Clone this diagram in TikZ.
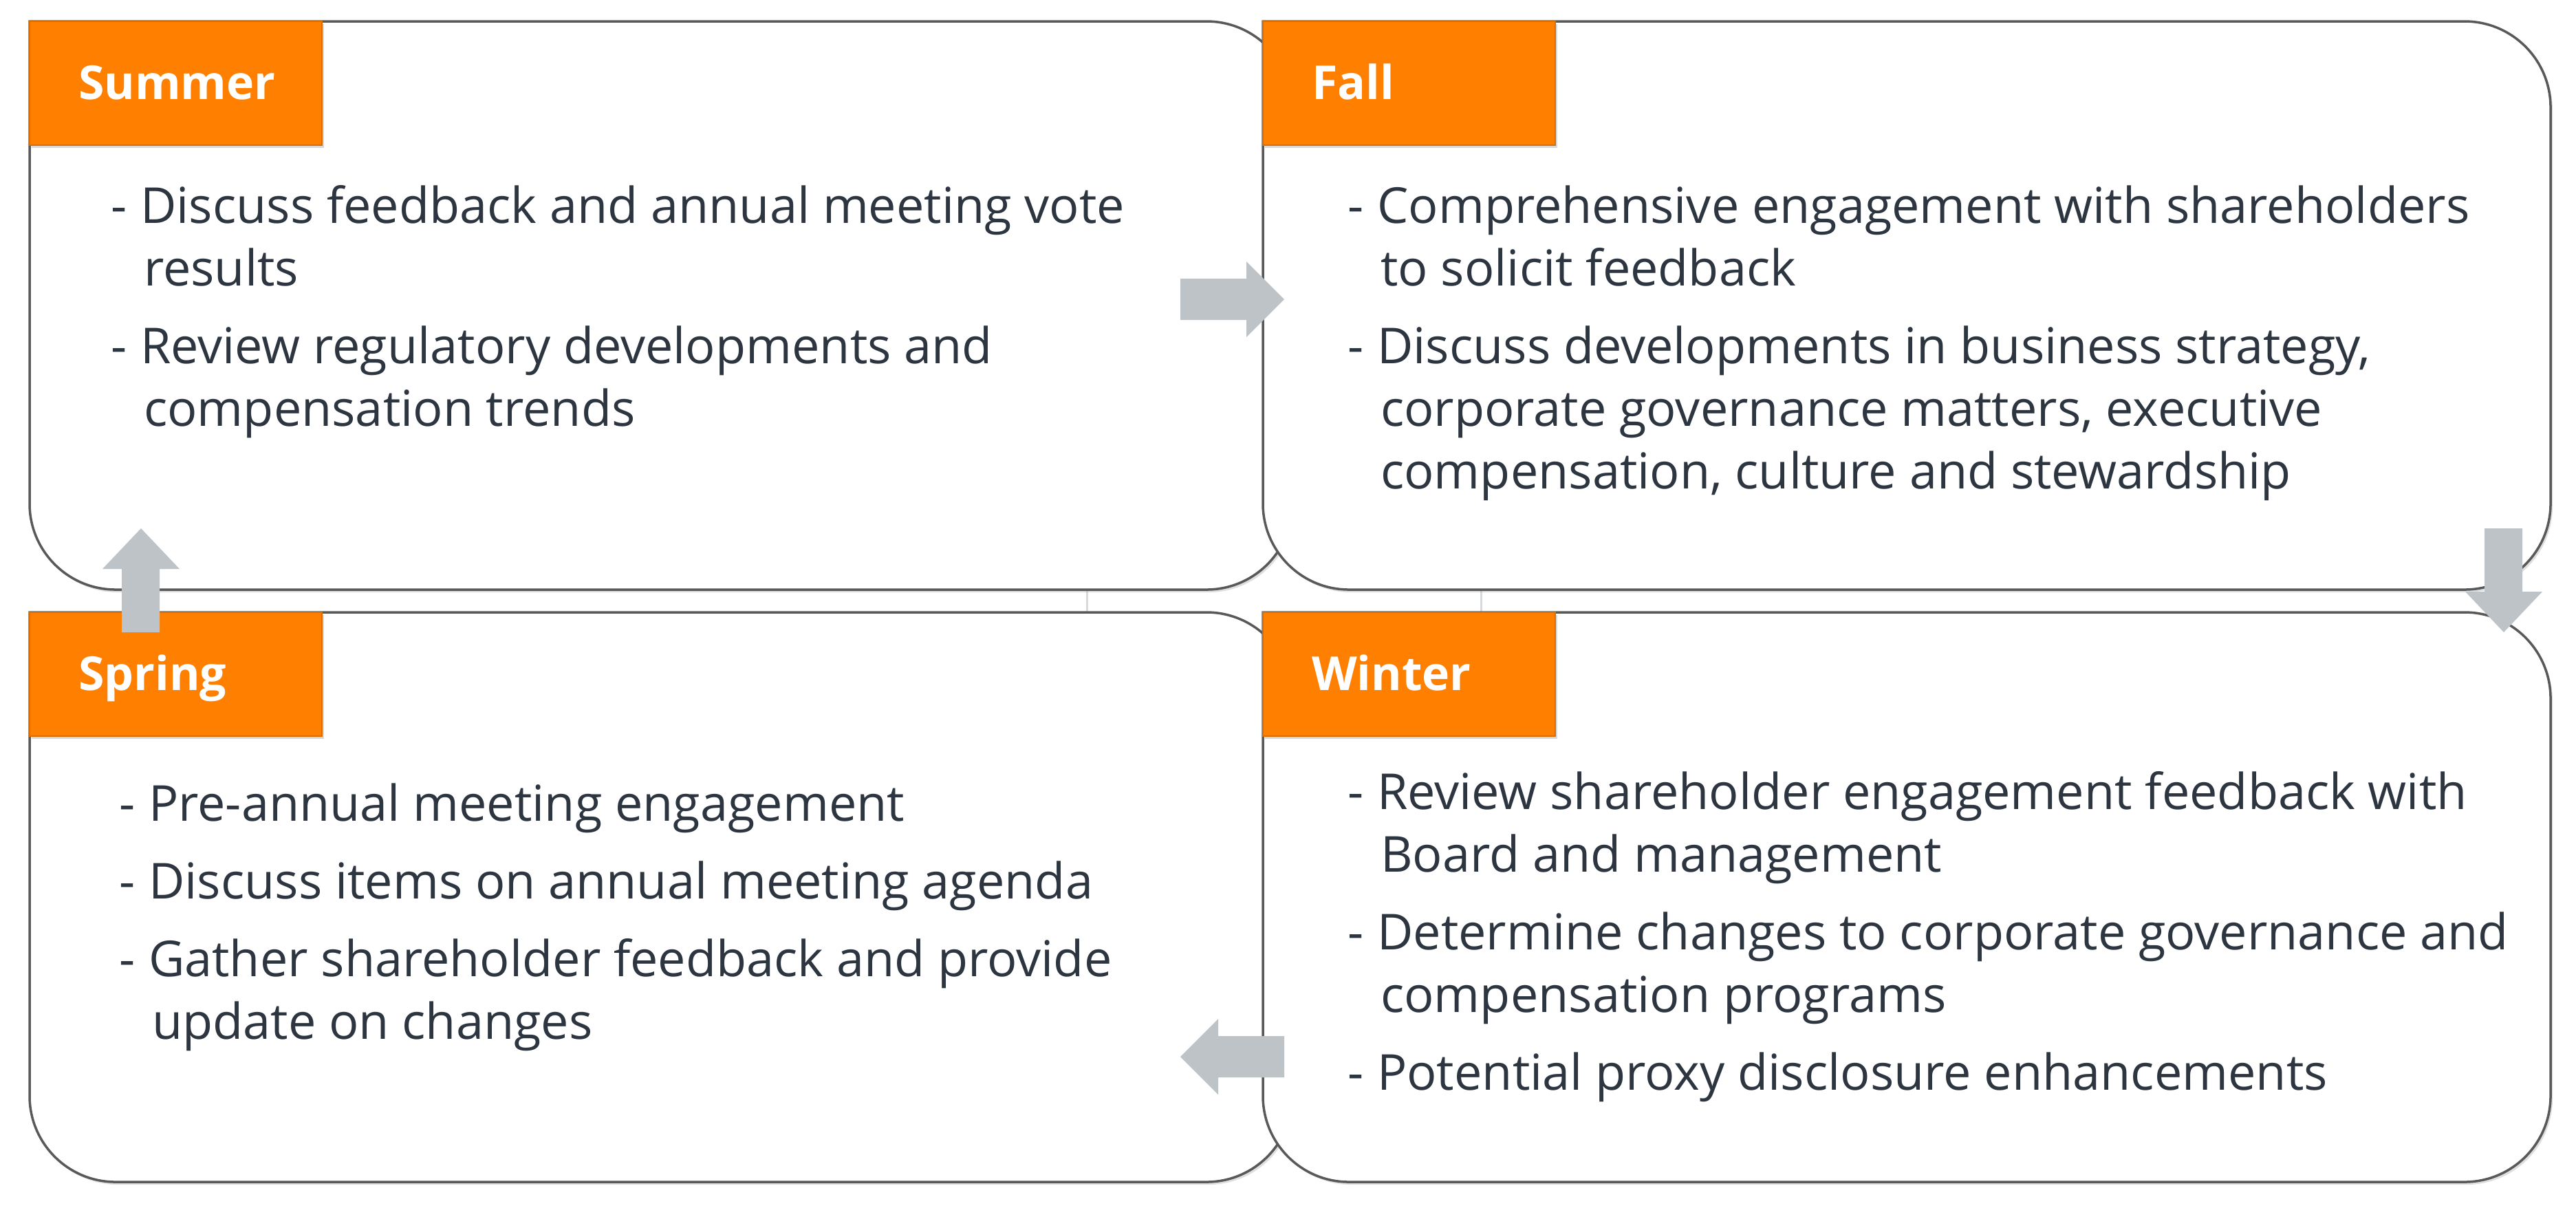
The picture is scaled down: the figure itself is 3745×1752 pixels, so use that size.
\documentclass[tikz,border=0pt]{standalone}
\usepackage{fontspec}
\setmainfont{Open Sans}
\usetikzlibrary{shadows}
\definecolor{org}{HTML}{FF8000}
\definecolor{txt}{HTML}{2D3640}
\definecolor{arr}{HTML}{BDC3C7}
\definecolor{bord}{HTML}{595959}
\tikzset{
  box/.style={draw=bord,line width=0.7pt,fill=white,drop shadow={opacity=0.25,shadow xshift=0.6pt,shadow yshift=-0.8pt}},
  lab/.style={fill=org,draw=org!85!black,line width=0.3pt,drop shadow={opacity=0.3,shadow xshift=0.6pt,shadow yshift=-0.8pt}},
  labtxt/.style={anchor=base west,inner sep=0pt,text=white,font=\fontsize{13.6}{18}\selectfont\bfseries},
  body/.style={anchor=base west,inner sep=0pt,text=txt,font=\fontsize{14.4}{18.2}\selectfont}
}
\begin{document}
\begin{tikzpicture}[x=0.2pt,y=-0.2pt]
\useasboundingbox (0,0) rectangle (3745,1752);
% faint connectors
\draw[arr!60,line width=0.6pt] (1580,850) -- (1580,895);
\draw[arr!60,line width=0.6pt] (2153,850) -- (2153,895);
% boxes
\def\R{125}
\path[box] (43,31) -- (1879-\R,31) arc[start angle=90,end angle=0,x radius=\R,y radius=-\R] -- (1879,857-\R) arc[start angle=0,end angle=-90,x radius=\R,y radius=-\R] -- (43+\R,857) arc[start angle=270,end angle=180,x radius=\R,y radius=-\R] -- cycle;
\path[box] (1836,31) -- (3708-\R,31) arc[start angle=90,end angle=0,x radius=\R,y radius=-\R] -- (3708,857-\R) arc[start angle=0,end angle=-90,x radius=\R,y radius=-\R] -- (1836+\R,857) arc[start angle=270,end angle=180,x radius=\R,y radius=-\R] -- cycle;
\path[box] (43,890) -- (1879-\R,890) arc[start angle=90,end angle=0,x radius=\R,y radius=-\R] -- (1879,1718-\R) arc[start angle=0,end angle=-90,x radius=\R,y radius=-\R] -- (43+\R,1718) arc[start angle=270,end angle=180,x radius=\R,y radius=-\R] -- cycle;
\path[box] (1836,890) -- (3708-\R,890) arc[start angle=90,end angle=0,x radius=\R,y radius=-\R] -- (3708,1718-\R) arc[start angle=0,end angle=-90,x radius=\R,y radius=-\R] -- (1836+\R,1718) arc[start angle=270,end angle=180,x radius=\R,y radius=-\R] -- cycle;
% labels
\path[lab] (43,31) rectangle (468,211);
\path[lab] (1836,31) rectangle (2261,211);
\path[lab] (43,890) rectangle (468,1070);
\path[lab] (1836,890) rectangle (2261,1070);
\node[labtxt] (lsum) at (113,144) {Summer};
\node[labtxt] (lfal) at (1906,144) {Fall};
\node[labtxt] (lspr) at (113,1003) {Spring};
\node[labtxt] (lwin) at (1906,1003) {Winter};
% bodies
\node[body] (tsum) at (160,324) {\begin{tabular}[t]{@{}l@{\hspace{4pt}}l@{}}
- & Discuss feedback and annual meeting vote\\
 & \hspace{1pt}results\\[4.4pt]
- & Review regulatory developments and\\
 & \hspace{1pt}compensation trends
\end{tabular}};
\node[body] (tfal) at (1958,324) {\begin{tabular}[t]{@{}l@{\hspace{4pt}}l@{}}
- & Comprehensive engagement with shareholders\\
 & \hspace{1pt}to solicit feedback\\[4.4pt]
- & Discuss developments in business strategy,\\
 & \hspace{1pt}corporate governance matters, executive\\
 & \hspace{1pt}compensation, culture and stewardship
\end{tabular}};
\node[body] (tspr) at (172,1193) {\begin{tabular}[t]{@{}l@{\hspace{4pt}}l@{}}
- & Pre-annual meeting engagement\\[4.4pt]
- & Discuss items on annual meeting agenda\\[4.4pt]
- & Gather shareholder feedback and provide\\
 & \hspace{1pt}update on changes
\end{tabular}};
\node[body] (twin) at (1958,1176) {\begin{tabular}[t]{@{}l@{\hspace{4pt}}l@{}}
- & Review shareholder engagement feedback with\\
 & \hspace{1pt}Board and management\\[4.4pt]
- & Determine changes to corporate governance and\\
 & \hspace{1pt}compensation programs\\[4.4pt]
- & Potential proxy disclosure enhancements
\end{tabular}};
% block arrows
\path[fill=arr] (1716,405) -- (1812,405) -- (1812,380) -- (1867,435) -- (1812,490) -- (1812,465) -- (1716,465) -- cycle;
\path[fill=arr] (1867,1506) -- (1771,1506) -- (1771,1481) -- (1716,1536) -- (1771,1591) -- (1771,1566) -- (1867,1566) -- cycle;
\path[fill=arr] (3612,768) -- (3667,768) -- (3667,860) -- (3696,860) -- (3640,919) -- (3584,860) -- (3612,860) -- cycle;
\path[fill=arr] (177,919) -- (232,919) -- (232,827) -- (261,827) -- (205,768) -- (149,827) -- (177,827) -- cycle;
\end{tikzpicture}
\end{document}
